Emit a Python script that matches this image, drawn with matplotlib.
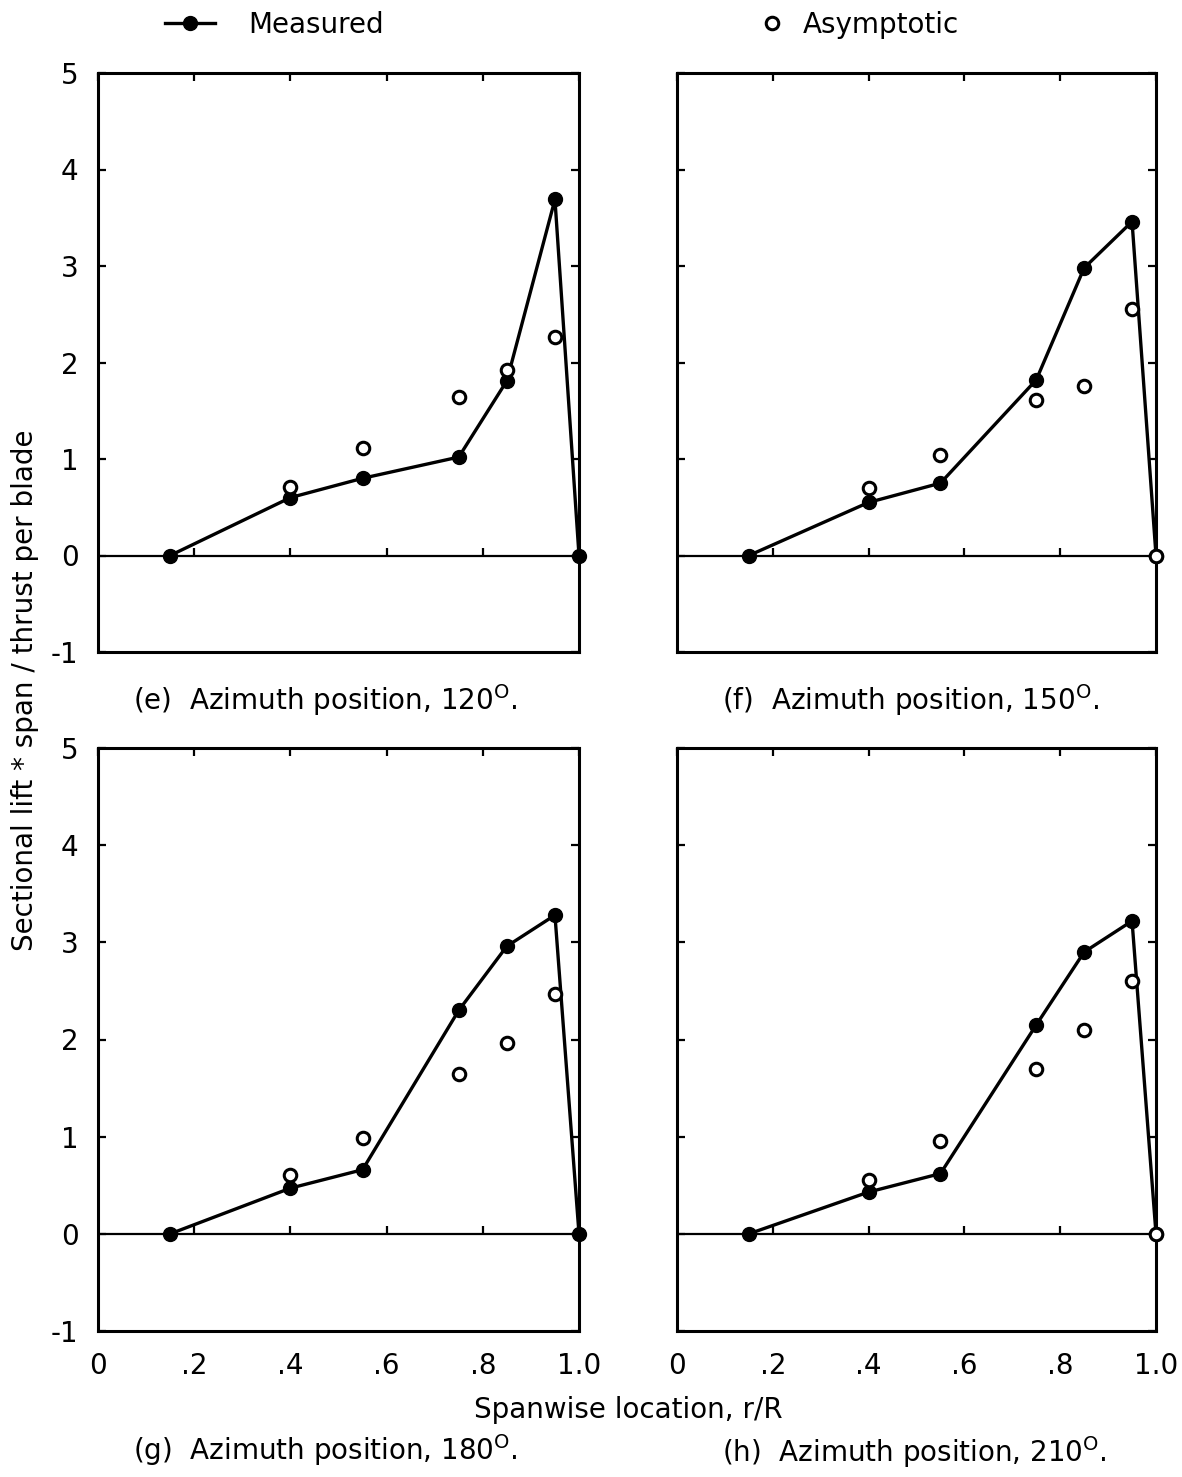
import numpy as np
import matplotlib.pyplot as plt

plt.rcParams["font.family"] = ["DejaVu Sans"]
plt.rcParams["mathtext.fontset"] = "dejavusans"

# spanwise stations, r/R
r_measured = [0.15, 0.40, 0.55, 0.75, 0.85, 0.95, 1.00]
r_asym_short = [0.40, 0.55, 0.75, 0.85, 0.95]
r_asym_long = [0.40, 0.55, 0.75, 0.85, 0.95, 1.00]

# sectional lift * span / thrust per blade
meas_120 = [0.0, 0.60, 0.80, 1.02, 1.81, 3.69, 0.0]
asym_120 = [0.71, 1.11, 1.64, 1.92, 2.26]
meas_150 = [0.0, 0.55, 0.75, 1.82, 2.98, 3.46, 0.0]
asym_150 = [0.70, 1.04, 1.61, 1.76, 2.55, 0.0]
meas_180 = [0.0, 0.47, 0.66, 2.30, 2.96, 3.28, 0.0]
asym_180 = [0.61, 0.99, 1.65, 1.96, 2.47]
meas_210 = [0.0, 0.43, 0.62, 2.15, 2.90, 3.22, 0.0]
asym_210 = [0.55, 0.96, 1.70, 2.10, 2.60, 0.0]

captions = [
    "(e)  Azimuth position, 120$^{\\mathsf{O}}$.",
    "(f)  Azimuth position, 150$^{\\mathsf{O}}$.",
    "(g)  Azimuth position, 180$^{\\mathsf{O}}$.",
    "(h)  Azimuth position, 210$^{\\mathsf{O}}$.",
]

x_ticks = [0, 0.2, 0.4, 0.6, 0.8, 1.0]
x_tick_labels = ["0", ".2", ".4", ".6", ".8", "1.0"]
y_ticks = [-1, 0, 1, 2, 3, 4, 5]
y_tick_labels = ["-1", "0", "1", "2", "3", "4", "5"]

panels = [
    (r_asym_short, meas_120, asym_120),
    (r_asym_long, meas_150, asym_150),
    (r_asym_short, meas_180, asym_180),
    (r_asym_long, meas_210, asym_210),
]

W, H = 1182, 1477
fig = plt.figure(figsize=(W / 100, H / 100), dpi=100)

# axes boxes in pixels: left, top, right, bottom
boxes = [
    (98, 73, 579, 652),
    (677, 73, 1156, 652),
    (98, 748, 579, 1331),
    (677, 748, 1156, 1331),
]
caption_pos = [(133, 700), (722, 700), (133, 1450), (722, 1452)]

fs = 20
for idx, (r_asym, meas, asym) in enumerate(panels):
    l, t, r, b = boxes[idx]
    ax = fig.add_axes([l / W, 1 - b / H, (r - l) / W, (b - t) / H])
    ax.set_xlim(0, 1.0)
    ax.set_ylim(-1, 5)

    ax.axhline(0, color="black", linewidth=1.6, zorder=1)
    # small tick marks sitting on the zero line
    ax.plot(x_ticks[1:-1], np.zeros(len(x_ticks) - 2), linestyle="none",
            marker=2, markersize=6, markeredgewidth=1.6, color="black")

    ax.plot(r_measured, meas, color="black", linewidth=2.4, marker="o",
            markersize=10, markerfacecolor="black", markeredgecolor="black",
            zorder=3, clip_on=False)
    ax.plot(r_asym, asym, linestyle="none", marker="o", markersize=9,
            markerfacecolor="white", markeredgecolor="black",
            markeredgewidth=2.2, zorder=4, clip_on=False)

    for s in ax.spines.values():
        s.set_linewidth(2.2)

    ax.set_xticks(x_ticks)
    ax.set_yticks(y_ticks)
    ax.tick_params(axis="both", direction="in", length=6, width=1.6,
                   top=True, right=True, labelsize=fs)
    ax.tick_params(axis="x", bottom=False, pad=15)
    ax.tick_params(axis="y", pad=14)
    if idx >= 2:
        ax.set_xticklabels(x_tick_labels)
    else:
        ax.set_xticklabels([])
    if idx % 2 == 0:
        ax.set_yticklabels(y_tick_labels)
    else:
        ax.set_yticklabels([])

    cx, cy = caption_pos[idx]
    fig.text(cx / W, 1 - cy / H, captions[idx], fontsize=fs,
             ha="left", va="center")

fig.text(628 / W, 1 - 1410 / H, "Spanwise location, r/R", fontsize=fs,
         ha="center", va="center")
fig.text(25 / W, 1 - 690 / H, "Sectional lift * span / thrust per blade",
         fontsize=fs, rotation=90, ha="center", va="center")

h_meas, = plt.plot([], [], color="black", linewidth=2.4, marker="o",
                   markersize=10, markerfacecolor="black")
h_asym, = plt.plot([], [], linestyle="none", marker="o", markersize=9,
                   markerfacecolor="white", markeredgecolor="black",
                   markeredgewidth=2.2)
fig.legend([h_meas], ["Measured"], loc="center left",
           bbox_to_anchor=(140 / W, 1 - 25 / H), frameon=False,
           fontsize=fs, handlelength=1.8, handletextpad=1.2, numpoints=1)
fig.legend([h_asym], ["Asymptotic"], loc="center left",
           bbox_to_anchor=(733 / W, 1 - 25 / H), frameon=False,
           fontsize=fs, handlelength=1.0, handletextpad=0.6, numpoints=1)

fig.savefig("out.png", dpi=100)
